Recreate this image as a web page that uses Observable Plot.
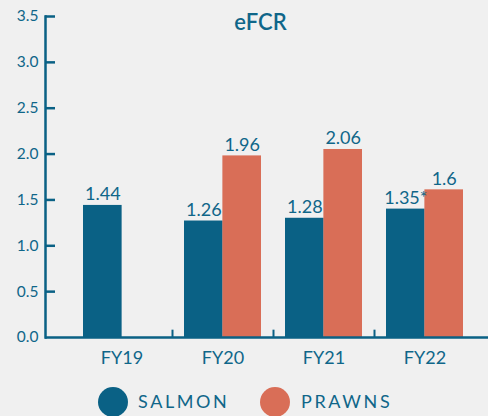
<!DOCTYPE html>
<html>
<head>
<meta charset="utf-8">
<script src="https://cdn.jsdelivr.net/npm/d3@7"></script>
<script src="https://cdn.jsdelivr.net/npm/@observablehq/plot@0.6"></script>
<style>
  html, body { margin: 0; padding: 0; background: #f0f0f0; }
  body { width: 488px; height: 416px; overflow: hidden; font-family: Lato, "Open Sans", sans-serif; }
  #chart svg { display: block; }
  .legend { position: relative; height: 44px; }
  .legend .sw { position: absolute; width: 30px; height: 30px; border-radius: 50%; top: 15px; }
  .legend .lb { position: absolute; top: 18px; font-size: 18px; letter-spacing: 2.6px; color: #0f6689; line-height: 22px; }
</style>
</head>
<body>
<div id="chart"></div>
<div class="legend" id="legend"></div>
<script>
const years = ["FY19", "FY20", "FY21", "FY22"];
const series = ["SALMON", "PRAWNS"];
const salmon = [1.44, 1.27, 1.30, 1.40];
const prawns = [null, 1.98, 2.05, 1.61];
const salmonLabels = ["1.44", "1.26", "1.28", "1.35*"];
const prawnsLabels = [null, "1.96", "2.06", "1.6"];
const yTicks = [0, 0.5, 1.0, 1.5, 2.0, 2.5, 3.0, 3.5];
const title = "eFCR";
const colors = {SALMON: "#0a6185", PRAWNS: "#d96e57"};
const textColor = "#0f6689";

const salmonData = years.map((y, i) => ({year: y, value: salmon[i], label: salmonLabels[i]}));
const prawnData = years.map((y, i) => ({year: y, value: prawns[i], label: prawnsLabels[i]})).filter(d => d.value != null);

const half = 101 * 0.76 / 2;

const chart = Plot.plot({
  width: 488,
  height: 372,
  marginLeft: 45,
  marginRight: 0,
  marginTop: 16,
  marginBottom: 35,
  style: {background: "#f0f0f0", fontFamily: "Lato, 'Open Sans', sans-serif", color: textColor},
  x: {type: "band", domain: years, range: [71, 475], paddingInner: 0.24, paddingOuter: 0.12, label: null},
  y: {domain: [0, 3.5], label: null},
  marks: [
    Plot.barY(salmonData, {x: "year", y: "value", fill: colors.SALMON, insetRight: half, insetLeft: 0}),
    Plot.barY(prawnData, {x: "year", y: "value", fill: colors.PRAWNS, insetLeft: half, insetRight: 0}),
    Plot.text(salmonData, {x: "year", y: "value", text: "label", dx: -half / 2, dy: -5, lineAnchor: "bottom", fill: textColor, fontSize: 18}),
    Plot.text(prawnData, {x: "year", y: "value", text: "label", dx: half / 2, dy: -5, lineAnchor: "bottom", fill: textColor, fontSize: 18}),
    Plot.frame({anchor: "left", stroke: colors.SALMON, strokeWidth: 2.5}),
    Plot.ruleY([0], {stroke: colors.SALMON, strokeWidth: 2.5}),
    Plot.ruleY(yTicks.slice(1), {y: d => d, stroke: colors.SALMON, strokeWidth: 2.5, insetRight: 488 - 45 - 10}),
    Plot.ruleX(years.slice(1), {x: d => d, y1: 0, y2: 0.08, dx: -50.5, stroke: colors.SALMON, strokeWidth: 2}),
    Plot.axisY({ticks: yTicks, tickSize: 0, tickPadding: 7, tickFormat: d3.format(".1f"), fontSize: 15.5, fill: textColor, label: null}),
    Plot.axisX({tickSize: 0, tickPadding: 14, fontSize: 18, fill: textColor, label: null, style: {letterSpacing: "2px"}}),
    Plot.text([title], {text: d => d, frameAnchor: "top", dx: -6.5, dy: 6, lineAnchor: "middle", fontSize: 22, fontWeight: 600, fill: textColor})
  ]
});
document.getElementById("chart").appendChild(chart);

const legend = document.getElementById("legend");
const legendPos = [{sw: 98, lb: 138}, {sw: 260, lb: 301}];
series.forEach((s, i) => {
  const sw = document.createElement("div");
  sw.className = "sw";
  sw.style.left = legendPos[i].sw + "px";
  sw.style.background = colors[s];
  legend.appendChild(sw);
  const lb = document.createElement("div");
  lb.className = "lb";
  lb.style.left = legendPos[i].lb + "px";
  lb.textContent = s;
  legend.appendChild(lb);
});
</script>
</body>
</html>
